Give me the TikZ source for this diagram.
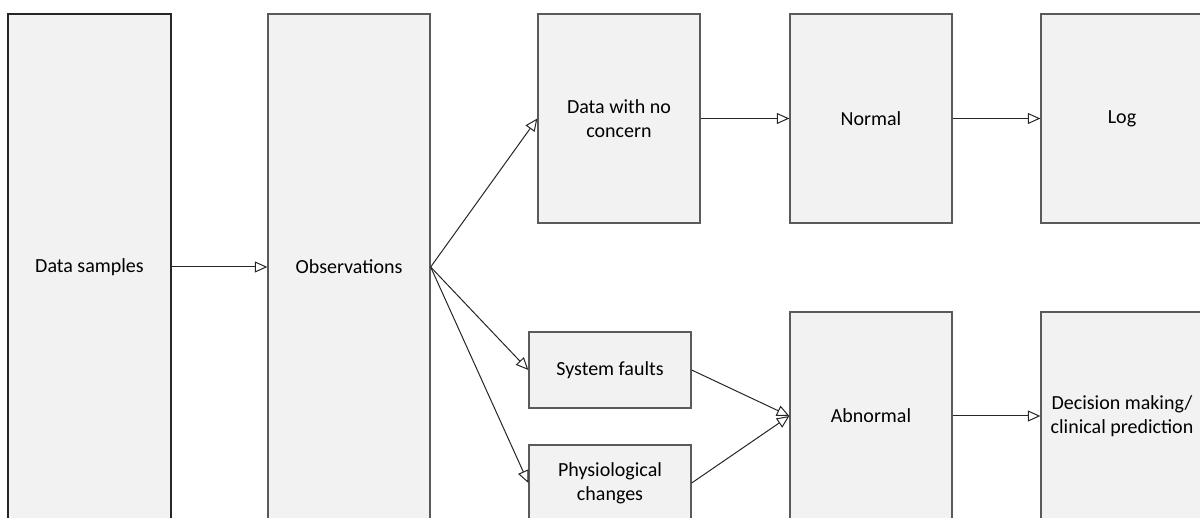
\documentclass[tikz,border=0pt]{standalone}
\usepackage{fontspec}
\setmainfont{Carlito}
\usetikzlibrary{arrows.meta}
\definecolor{boxfill}{HTML}{F2F2F2}
\definecolor{boxline}{HTML}{5A5A5A}
\definecolor{wire}{HTML}{262626}
\begin{document}
\begin{tikzpicture}[x=1pt,y=-1pt,
  block/.style={draw=boxline, fill=boxfill, line width=1.3pt, inner sep=0pt,
    align=center, font=\fontsize{20}{24.4}\selectfont, text=black},
  wide/.style={minimum width=162pt},
  flow/.style={draw=wire, line width=1pt,
    -{Triangle[open, length=12.5pt, width=11pt, line width=1pt]}}]
\useasboundingbox (0,0) rectangle (1200,518);
% input columns
\node[block, wide, minimum width=163pt, minimum height=506pt, draw=black!85] (ds) at (89.5,267) {Data samples};
\node[block, wide, minimum height=506pt] (obs) at (349,267) {Observations};
% upper branch
\node[block, wide, minimum height=209pt] (dnc) at (619,118.5) {Data with no\\concern};
\node[block, wide, minimum height=209pt] (nrm) at (871,118.5) {Normal};
\node[block, wide, minimum height=209pt] (log) at (1122,118.5) {Log};
% lower branch
\node[block, wide, minimum height=76pt] (sf) at (610,370) {System faults};
\node[block, wide, minimum height=76pt] (pc) at (610,483) {Physiological\\changes};
\node[block, wide, minimum height=208pt] (abn) at (871,416) {Abnormal};
\node[block, wide, minimum height=208pt] (dec) at (1122,416) {Decision making/\\clinical prediction};
% connectors
\draw[flow] (ds.east) -- (obs.west);
\draw[flow] (obs.east) -- (dnc.west);
\draw[flow] (obs.east) -- (sf.west);
\draw[flow] (obs.east) -- (pc.west);
\draw[flow] (dnc.east) -- (nrm.west);
\draw[flow] (nrm.east) -- (log.west);
\draw[flow] (sf.east) -- (abn.west);
\draw[flow] (pc.east) -- (abn.west);
\draw[flow] (abn.east) -- (dec.west);
\end{tikzpicture}
\end{document}
